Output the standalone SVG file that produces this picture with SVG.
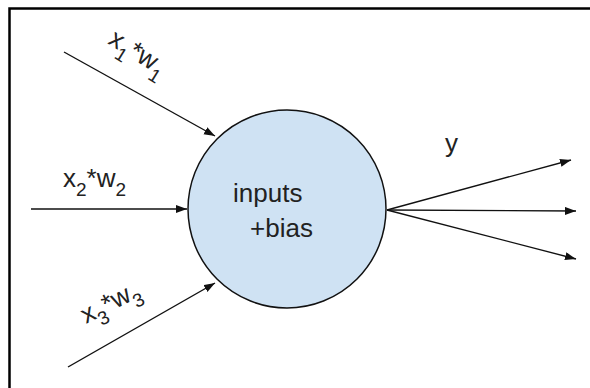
<svg xmlns="http://www.w3.org/2000/svg" width="590" height="388" viewBox="0 0 590 388">
<style>
text{font-family:"Liberation Sans",Arial,sans-serif;font-size:26px;fill:#222}
.sub{font-size:19px}
.edge{stroke:#111;stroke-width:1.4;fill:none;marker-end:url(#ah)}
</style>
<defs>
<marker id="ah" markerUnits="userSpaceOnUse" markerWidth="12" markerHeight="10" refX="11" refY="4" orient="auto">
<path d="M0,0 L11,4 L0,8 z" fill="#111"/>
</marker>
</defs>
<rect x="9.5" y="8.5" width="600" height="400" fill="none" stroke="#000" stroke-width="2.5"/>
<g id="neuron">
<circle cx="287" cy="209" r="99" fill="#cfe2f3" stroke="#111" stroke-width="1.5"/>
<text x="233" y="202">inputs</text>
<text x="250" y="237">+bias</text>
</g>
<g id="connectors">
<line class="edge" x1="64" y1="52" x2="215" y2="136"/>
<line class="edge" x1="31" y1="209" x2="187" y2="209"/>
<line class="edge" x1="68" y1="367" x2="215" y2="283"/>
<line class="edge" x1="387" y1="210" x2="571" y2="160"/>
<line class="edge" x1="387" y1="210" x2="576" y2="211"/>
<line class="edge" x1="387" y1="210" x2="576" y2="259"/>
</g>
<g id="label-x1">
<text transform="translate(107,43) rotate(32)">x<tspan class="sub" dy="9">1</tspan><tspan dy="-9">*</tspan>w<tspan class="sub" dy="9">1</tspan></text>
</g>
<g id="label-x2">
<text x="63" y="187">x<tspan class="sub" dy="9">2</tspan><tspan dy="-9">*</tspan>w<tspan class="sub" dy="9">2</tspan></text>
</g>
<g id="label-x3">
<text transform="translate(86,324) rotate(-27)">x<tspan class="sub" dy="9">3</tspan><tspan dy="-9">*</tspan>w<tspan class="sub" dy="9">3</tspan></text>
</g>
<g id="label-y">
<text x="445" y="152">y</text>
</g>
</svg>
